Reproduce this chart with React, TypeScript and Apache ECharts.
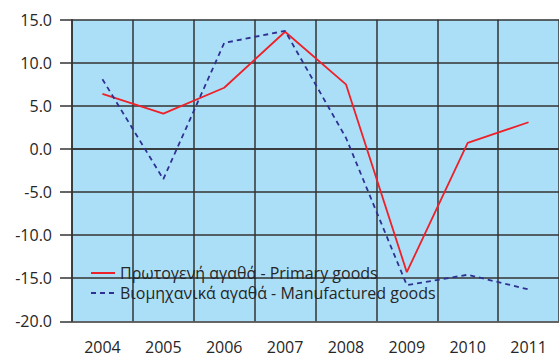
import React, { useEffect, useRef } from "react";
import * as echarts from "echarts";

const years = ["2004", "2005", "2006", "2007", "2008", "2009", "2010", "2011"];
const primaryGoods = [6.4, 4.1, 7.1, 13.6, 7.5, -14.3, 0.7, 3.1];
const manufacturedGoods = [8.1, -3.5, 12.3, 13.7, 1.3, -15.8, -14.6, -16.3];
const primaryName = "Πρωτογενή αγαθά - Primary goods";
const manufacturedName = "Βιομηχανικά αγαθά - Manufactured goods";

const FONT = "Open Sans";
const TXT = "#262626";

export default function App() {
  const ref = useRef<HTMLDivElement>(null);
  useEffect(() => {
    if (!ref.current) return;
    const chart = echarts.init(ref.current, undefined, { renderer: "svg" });
    chart.setOption({
      animation: false,
      backgroundColor: "#ffffff",
      grid: { left: 72, top: 19.7, right: -3.6, bottom: 35.7, show: true, backgroundColor: "#abdff8", borderWidth: 0 },
      legend: {
        orient: "vertical",
        left: 85,
        top: 260,
        itemWidth: 24,
        itemHeight: 10,
        itemGap: 4,
        itemStyle: { opacity: 0 },
        textStyle: { fontFamily: FONT, fontSize: 16, color: TXT, padding: [0, 0, 0, 0] },
        data: [primaryName, manufacturedName],
      },
      xAxis: {
        type: "category",
        data: years,
        boundaryGap: true,
        axisLine: { show: true, lineStyle: { color: "#333", width: 1.5 } },
        axisTick: { show: false },
        splitLine: { show: true, lineStyle: { color: "#333", width: 1.5 } },
        axisLabel: { fontFamily: FONT, fontSize: 16, color: TXT, margin: 18 },
      },
      yAxis: {
        type: "value",
        min: -20,
        max: 15,
        interval: 5,
        axisLine: { show: true, onZero: false, lineStyle: { color: "#333", width: 1.5 } },
        axisTick: { show: true, length: 12, lineStyle: { color: "#333", width: 1.5 } },
        splitLine: { show: true, lineStyle: { color: "#333", width: 1.5 } },
        axisLabel: { fontFamily: FONT, fontSize: 16, color: TXT, margin: 20, formatter: (v: number) => v.toFixed(1) },
      },
      series: [
        {
          name: primaryName,
          type: "line",
          data: primaryGoods,
          symbol: "none",
          lineStyle: { color: "#ee2028", width: 1.8 },
          itemStyle: { color: "#ee2028" },
        },
        {
          name: manufacturedName,
          type: "line",
          data: manufacturedGoods,
          symbol: "none",
          lineStyle: { color: "#2e3192", width: 1.8, type: [5, 4] },
          itemStyle: { color: "#2e3192" },
        },
      ],
    });
    return () => chart.dispose();
  }, []);
  return (
    <div
      ref={ref}
      style={{ position: "fixed", left: 0, top: 0, width: 559, height: 357, overflow: "hidden" }}
    />
  );
}
